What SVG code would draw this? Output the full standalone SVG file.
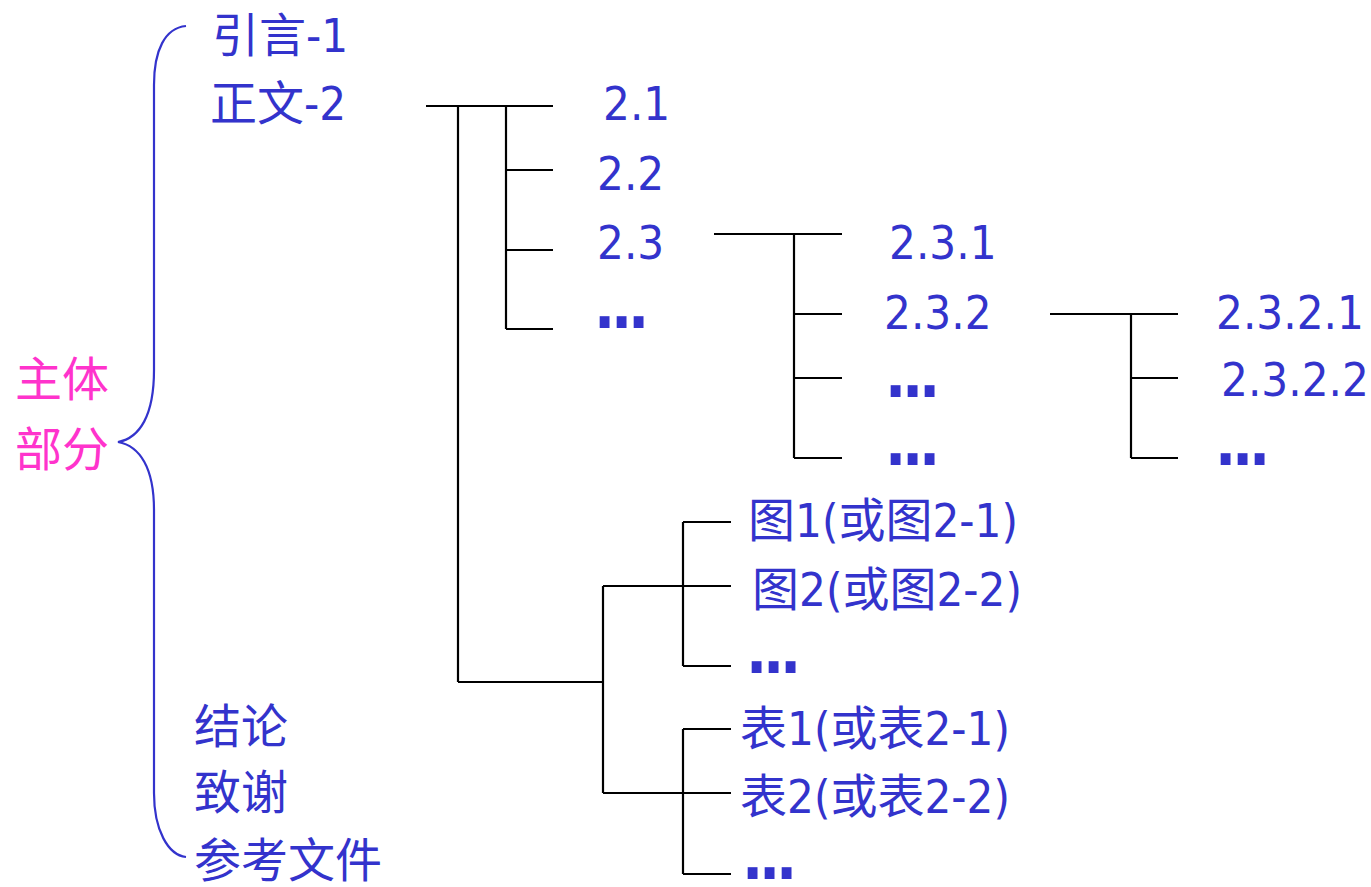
<svg xmlns="http://www.w3.org/2000/svg" width="1371" height="887" viewBox="0 0 1371 887">
<style>
text{font-family:'DejaVu Sans Condensed','DejaVu Sans','Noto Sans CJK SC',sans-serif;font-stretch:condensed;font-size:47px;fill:#3333CC}
.m{fill:#FF33CC}
.d{font-weight:bold;font-size:62px}
.c line{stroke:#000;stroke-width:2.2}
.br{fill:none;stroke:#3333CC;stroke-width:2.2}
</style>
<rect width="1371" height="887" fill="#fff"/>
<g id="brace"><path class="br" d="M186,26 C165,28 154,50 154,85 L154,370 C154,415 140,438 118,442 C140,446 154,468 154,510 L154,793 C154,830 168,855 186,857"/></g>
<g id="root"><text class="m" x="15" y="396">主体</text><text class="m" x="15" y="466">部分</text></g>
<g id="n-intro"><text x="212" y="52">引言-1</text></g>
<g id="n-body"><text x="210" y="120">正文-2</text></g>
<g id="n-concl"><text x="194" y="743">结论</text></g>
<g id="n-thanks"><text x="194" y="809">致谢</text></g>
<g id="n-ref"><text x="194" y="877">参考文件</text></g>
<g id="n21"><text x="603" y="120">2.1</text></g>
<g id="n22"><text x="597" y="190">2.2</text></g>
<g id="n23"><text x="597" y="259">2.3</text></g>
<g id="n2x"><text class="d" x="594 611 628" y="328">...</text></g>
<g id="n231"><text x="889" y="259">2.3.1</text></g>
<g id="n232"><text x="884" y="329">2.3.2</text></g>
<g id="n23x1"><text class="d" x="885 902 919" y="397">...</text></g>
<g id="n23x2"><text class="d" x="885 902 919" y="465">...</text></g>
<g id="n2321"><text x="1216" y="329">2.3.2.1</text></g>
<g id="n2322"><text x="1221" y="396">2.3.2.2</text></g>
<g id="n232x"><text class="d" x="1215 1232 1249" y="465">...</text></g>
<g id="fig1"><text x="748" y="537">图1(或图2-1)</text></g>
<g id="fig2"><text x="752" y="606">图2(或图2-2)</text></g>
<g id="figx"><text class="d" x="746 763 780" y="673">...</text></g>
<g id="tab1"><text x="740" y="745">表1(或表2-1)</text></g>
<g id="tab2"><text x="740" y="813">表2(或表2-2)</text></g>
<g id="tabx"><text class="d" x="742 759 776" y="879">...</text></g>
<g class="c" id="connectors">
<line x1="426" y1="106" x2="553" y2="106"/>
<line x1="458" y1="106" x2="458" y2="682"/>
<line x1="506" y1="106" x2="506" y2="329"/>
<line x1="506" y1="170" x2="553" y2="170"/>
<line x1="506" y1="250" x2="553" y2="250"/>
<line x1="506" y1="329" x2="553" y2="329"/>
<line x1="714" y1="234" x2="842" y2="234"/>
<line x1="794" y1="234" x2="794" y2="458"/>
<line x1="794" y1="314" x2="842" y2="314"/>
<line x1="794" y1="378" x2="842" y2="378"/>
<line x1="794" y1="458" x2="842" y2="458"/>
<line x1="1050" y1="314" x2="1178" y2="314"/>
<line x1="1131" y1="314" x2="1131" y2="458"/>
<line x1="1131" y1="378" x2="1178" y2="378"/>
<line x1="1131" y1="458" x2="1178" y2="458"/>
<line x1="458" y1="682" x2="603" y2="682"/>
<line x1="603" y1="586" x2="603" y2="793"/>
<line x1="603" y1="586" x2="731" y2="586"/>
<line x1="603" y1="793" x2="731" y2="793"/>
<line x1="683" y1="522" x2="683" y2="666"/>
<line x1="683" y1="522" x2="731" y2="522"/>
<line x1="683" y1="666" x2="731" y2="666"/>
<line x1="683" y1="729" x2="683" y2="874"/>
<line x1="683" y1="729" x2="731" y2="729"/>
<line x1="683" y1="874" x2="731" y2="874"/>
</g>
</svg>
